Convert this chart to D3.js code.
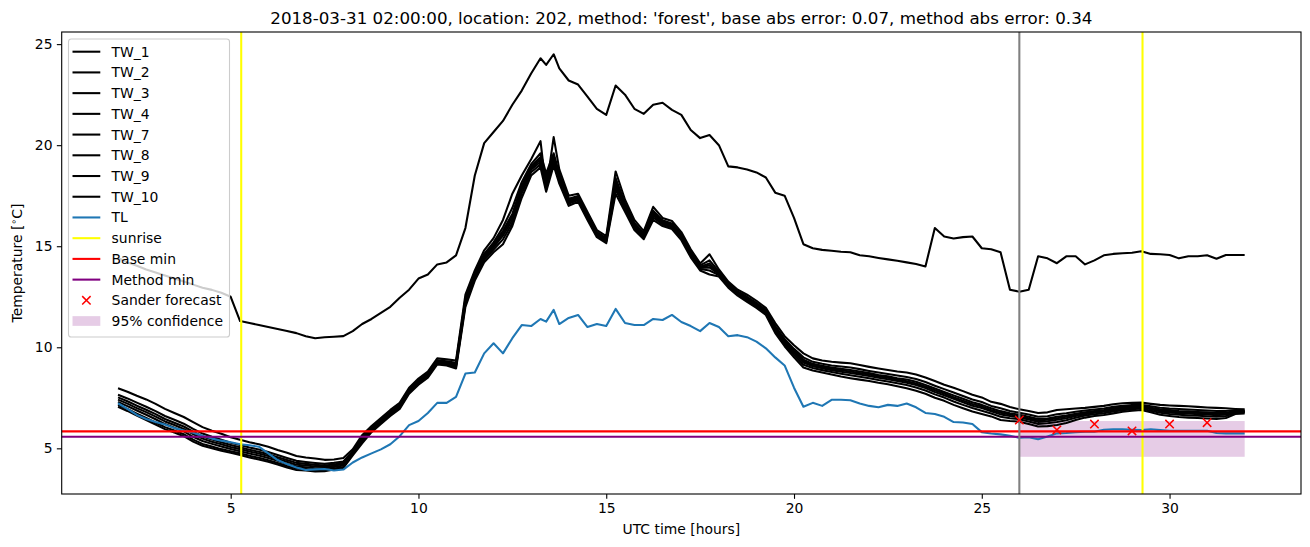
<!DOCTYPE html>
<html><head><meta charset="utf-8">
<script src="https://cdn.jsdelivr.net/npm/d3@7"></script>
<style>body{margin:0;background:#fff}svg{display:block;font-family:"DejaVu Sans",sans-serif}</style>
</head><body><svg id="c" width="1310" height="547"></svg>
<script>
const hours=[2,2.25,2.5,2.75,3,3.25,3.5,3.75,4,4.25,4.5,4.75,5,5.25,5.5,5.75,6,6.25,6.5,6.75,7,7.25,7.5,7.75,8,8.25,8.5,8.75,9,9.25,9.5,9.75,10,10.25,10.5,10.75,11,11.25,11.5,11.75,12,12.25,12.5,12.75,13,13.25,13.4,13.6,13.75,14,14.25,14.5,14.75,15,15.25,15.5,15.75,16,16.25,16.5,16.75,17,17.25,17.5,17.75,18,18.25,18.5,18.75,19,19.25,19.5,19.75,20,20.25,20.5,20.75,21,21.25,21.5,21.75,22,22.25,22.5,22.75,23,23.25,23.5,23.75,24,24.25,24.5,24.75,25,25.25,25.5,25.75,26,26.25,26.5,26.75,27,27.25,27.5,27.75,28,28.25,28.5,28.75,29,29.25,29.5,29.75,30,30.25,30.5,30.75,31,31.25,31.5,31.75,32];
const TW_1=[14.42,14.2,14.03,13.85,13.7,13.55,13.4,13.25,13.1,12.95,12.84,12.7,12.5,11.3,11.2,11.1,11.0,10.9,10.81,10.7,10.55,10.45,10.5,10.52,10.55,10.8,11.15,11.4,11.7,12.0,12.45,12.85,13.4,13.6,14.1,14.2,14.55,15.9,18.5,20.1,20.65,21.2,22.0,22.7,23.55,24.3,23.97,24.5,23.8,23.2,23.0,22.4,21.8,21.5,22.95,22.5,21.8,21.55,22.0,22.1,21.75,21.5,20.75,20.35,20.5,20.0,18.95,18.9,18.8,18.65,18.4,17.65,17.5,16.4,15.1,14.9,14.82,14.78,14.73,14.7,14.55,14.5,14.42,14.35,14.28,14.2,14.12,14.0,15.9,15.48,15.38,15.45,15.48,14.9,14.85,14.7,12.85,12.75,12.85,14.5,14.4,14.16,14.5,14.5,14.1,14.3,14.55,14.62,14.65,14.68,14.75,14.62,14.6,14.57,14.4,14.5,14.5,14.55,14.38,14.57,14.57,14.57];
const TW_2=[7.97,7.8,7.6,7.42,7.2,6.95,6.75,6.55,6.3,6.05,5.87,5.72,5.55,5.42,5.3,5.2,5.08,4.92,4.78,4.62,4.55,4.5,4.43,4.45,4.52,4.95,5.65,6.1,6.5,6.9,7.25,8.0,8.45,8.8,9.45,9.4,9.35,12.6,13.8,14.8,15.4,16.3,17.6,18.5,19.3,20.2,17.8,20.4,18.8,17.5,17.6,16.7,15.8,15.5,18.7,17.3,16.3,15.75,16.95,16.4,16.25,15.7,14.85,14.15,14.6,13.85,13.25,12.85,12.6,12.3,11.95,11.2,10.55,10.1,9.7,9.45,9.35,9.28,9.24,9.21,9.12,9.03,8.95,8.88,8.8,8.75,8.65,8.5,8.33,8.15,8.0,7.83,7.65,7.52,7.3,7.2,7.05,6.93,6.85,6.75,6.78,6.9,6.93,6.97,7.0,7.05,7.1,7.18,7.23,7.25,7.26,7.2,7.15,7.12,7.1,7.08,7.05,7.02,7.0,6.98,6.95,6.93];
const TW_3=[7.65,7.47,7.26,7.06,6.84,6.6,6.41,6.22,5.96,5.73,5.57,5.43,5.28,5.16,5.04,4.94,4.82,4.67,4.52,4.38,4.32,4.27,4.23,4.28,4.35,4.86,5.53,6.01,6.41,6.81,7.16,7.91,8.36,8.71,9.36,9.31,9.23,12.42,13.65,14.62,15.19,15.94,16.9,18.17,19.06,19.6,18.6,19.6,18.59,17.35,17.48,16.58,15.7,15.4,18.37,17.12,16.15,15.63,16.76,16.28,16.13,15.58,14.73,14.05,14.3,13.75,13.16,12.76,12.5,12.2,11.85,11.05,10.4,9.92,9.5,9.28,9.18,9.1,9.05,9.0,8.92,8.83,8.75,8.68,8.6,8.53,8.43,8.28,8.1,7.93,7.76,7.59,7.42,7.29,7.1,6.98,6.85,6.76,6.67,6.56,6.59,6.69,6.74,6.81,6.87,6.92,6.97,7.05,7.11,7.14,7.16,7.08,7.01,6.97,6.95,6.92,6.9,6.87,6.85,6.85,6.88,6.87];
const TW_4=[7.52,7.33,7.11,6.91,6.69,6.45,6.27,6.08,5.82,5.59,5.44,5.3,5.17,5.05,4.93,4.83,4.71,4.56,4.42,4.28,4.23,4.18,4.15,4.2,4.28,4.82,5.47,5.97,6.37,6.77,7.12,7.87,8.32,8.67,9.32,9.27,9.17,12.33,13.58,14.53,15.09,15.76,16.6,18.0,18.94,19.42,18.4,19.45,18.49,17.28,17.42,16.52,15.64,15.34,18.2,17.03,16.08,15.57,16.66,16.22,16.07,15.52,14.67,13.99,14.15,13.69,13.12,12.72,12.44,12.14,11.79,10.98,10.33,9.83,9.39,9.18,9.08,9.0,8.93,8.88,8.8,8.72,8.63,8.56,8.47,8.4,8.29,8.14,7.96,7.79,7.62,7.45,7.28,7.15,6.98,6.84,6.74,6.66,6.56,6.45,6.47,6.56,6.62,6.71,6.78,6.85,6.9,6.98,7.04,7.07,7.1,7.01,6.93,6.89,6.85,6.83,6.8,6.78,6.75,6.76,6.84,6.84];
const TW_7=[7.41,7.21,6.99,6.79,6.57,6.33,6.15,5.96,5.7,5.48,5.33,5.2,5.07,4.96,4.84,4.74,4.62,4.47,4.33,4.19,4.15,4.1,4.08,4.14,4.22,4.78,5.43,5.93,6.33,6.73,7.08,7.83,8.28,8.63,9.28,9.23,9.13,12.27,13.52,14.47,15.02,15.64,16.45,17.9,18.86,19.3,18.25,19.35,18.41,17.22,17.38,16.48,15.61,15.31,18.1,16.97,16.02,15.53,16.59,16.18,16.03,15.48,14.63,13.96,14.05,13.66,13.08,12.68,12.41,12.11,11.76,10.92,10.27,9.77,9.32,9.12,9.02,8.93,8.86,8.8,8.72,8.65,8.56,8.49,8.4,8.32,8.21,8.06,7.87,7.71,7.53,7.36,7.19,7.07,6.9,6.76,6.67,6.59,6.49,6.38,6.41,6.49,6.56,6.66,6.74,6.8,6.85,6.93,7.0,7.04,7.06,6.97,6.88,6.83,6.8,6.77,6.75,6.72,6.7,6.72,6.82,6.82];
const TW_8=[7.29,7.09,6.87,6.66,6.44,6.2,6.02,5.84,5.57,5.36,5.22,5.09,4.97,4.86,4.74,4.64,4.52,4.38,4.23,4.1,4.06,4.01,4.01,4.08,4.15,4.76,5.39,5.9,6.3,6.7,7.05,7.8,8.25,8.6,9.25,9.2,9.09,12.21,13.48,14.41,14.95,15.52,16.3,17.79,18.78,19.18,18.1,19.25,18.35,17.18,17.34,16.44,15.57,15.27,17.99,16.91,15.98,15.49,16.53,16.14,15.99,15.44,14.59,13.92,13.95,13.62,13.05,12.65,12.37,12.07,11.72,10.88,10.23,9.71,9.25,9.06,8.96,8.87,8.79,8.73,8.65,8.58,8.49,8.42,8.33,8.24,8.13,7.98,7.79,7.63,7.45,7.28,7.11,6.99,6.83,6.68,6.6,6.53,6.43,6.31,6.34,6.41,6.49,6.6,6.69,6.76,6.81,6.89,6.96,7.0,7.03,6.93,6.83,6.78,6.74,6.72,6.69,6.67,6.64,6.67,6.8,6.8];
const TW_9=[7.15,6.95,6.72,6.5,6.28,6.05,5.88,5.7,5.43,5.22,5.09,4.96,4.86,4.75,4.63,4.53,4.41,4.27,4.12,4.0,3.97,3.92,3.93,4.0,4.08,4.71,5.33,5.86,6.26,6.66,7.01,7.76,8.21,8.56,9.21,9.16,9.03,12.12,13.4,14.32,14.84,15.34,16.15,17.62,18.66,19.05,17.95,19.1,18.24,17.1,17.28,16.38,15.52,15.22,17.82,16.82,15.9,15.43,16.43,16.08,15.93,15.38,14.53,13.87,13.8,13.57,13.01,12.61,12.32,12.02,11.67,10.8,10.15,9.62,9.14,8.97,8.87,8.78,8.69,8.62,8.54,8.47,8.38,8.31,8.22,8.13,8.01,7.86,7.67,7.51,7.32,7.15,6.99,6.86,6.72,6.56,6.49,6.44,6.33,6.21,6.24,6.3,6.39,6.51,6.62,6.69,6.74,6.82,6.89,6.94,6.97,6.86,6.76,6.7,6.66,6.63,6.61,6.59,6.56,6.6,6.76,6.77];
const TW_10=[7.06,6.85,6.62,6.4,6.18,5.95,5.78,5.6,5.33,5.13,5.0,4.88,4.78,4.67,4.55,4.45,4.33,4.2,4.05,3.93,3.9,3.85,3.87,3.95,4.03,4.65,5.25,5.8,6.2,6.6,6.95,7.7,8.15,8.5,9.15,9.1,8.95,12.0,13.3,14.2,14.7,15.1,16.0,17.4,18.5,18.9,17.7,19.0,18.1,17.0,17.2,16.3,15.45,15.15,17.6,16.7,15.8,15.35,16.3,16.0,15.85,15.3,14.45,13.8,13.6,13.5,12.95,12.55,12.25,11.95,11.6,10.7,10.05,9.5,9.0,8.85,8.75,8.65,8.55,8.47,8.4,8.33,8.24,8.17,8.07,7.97,7.85,7.7,7.5,7.35,7.15,6.98,6.82,6.7,6.58,6.4,6.35,6.32,6.2,6.08,6.1,6.15,6.25,6.4,6.52,6.6,6.65,6.73,6.81,6.86,6.9,6.78,6.66,6.6,6.55,6.52,6.5,6.48,6.45,6.5,6.7,6.72];
const TL=[7.23,6.95,6.65,6.45,6.3,6.18,6.0,5.88,5.77,5.62,5.48,5.38,5.3,5.2,5.15,5.08,4.75,4.42,4.22,4.05,3.93,3.96,3.98,3.9,3.95,4.3,4.55,4.75,4.95,5.2,5.6,6.15,6.35,6.75,7.25,7.25,7.55,8.7,8.75,9.7,10.2,9.7,10.45,11.1,11.05,11.4,11.27,11.85,11.15,11.45,11.6,11.0,11.15,11.05,11.9,11.2,11.1,11.1,11.4,11.35,11.6,11.25,11.05,10.8,11.2,11.0,10.55,10.6,10.5,10.28,9.95,9.5,9.1,8.0,7.06,7.25,7.1,7.4,7.4,7.38,7.22,7.1,7.03,7.15,7.1,7.22,7.03,6.75,6.7,6.56,6.3,6.28,6.2,5.8,5.73,5.69,5.62,5.52,5.55,5.45,5.58,5.74,5.76,5.8,5.82,5.82,5.92,5.94,5.94,5.92,5.9,5.94,5.9,5.87,5.87,5.87,5.87,5.87,5.76,5.74,5.74,5.74];
const twNames=["TW_1","TW_2","TW_3","TW_4","TW_7","TW_8","TW_9","TW_10"];
const twSeries=[TW_1,TW_2,TW_3,TW_4,TW_7,TW_8,TW_9,TW_10];
const sunriseHours=[5.28,29.28];
const baseMin=5.84, methodMin=5.57, forecastHour=26;
const sanderHours=[26,27,28,29,30,31];
const sanderValues=[6.40,5.91,6.20,5.86,6.20,6.27];
const confHours=[26,32], confLow=4.58, confHigh=6.35;
const xTicks=[5,10,15,20,25,30], yTicks=[5,10,15,20,25];
const titleText="2018-03-31 02:00:00, location: 202, method: 'forest', base abs error: 0.07, method abs error: 0.34";
const legendLabels=["TW_1","TW_2","TW_3","TW_4","TW_7","TW_8","TW_9","TW_10","TL","sunrise","Base min","Method min","Sander forecast","95% confidence"];

const L=61.7,R=1301,T=32,B=494,FS=13.9,LW=2.08;
const svg=d3.select("#c");
const x=d3.scaleLinear().domain([0.5,33.5]).range([L,R]);
const y=d3.scaleLinear().domain([2.74,25.6]).range([B,T]);
const line=d3.line().x((d,i)=>x(hours[i])).y(d=>y(d));

// confidence band
svg.append("rect").attr("x",x(confHours[0])).attr("width",x(confHours[1])-x(confHours[0]))
 .attr("y",y(confHigh)).attr("height",y(confLow)-y(confHigh)).attr("fill","purple").attr("fill-opacity",0.2);
const g=svg.append("g");
twSeries.forEach(s=>g.append("path").attr("d",line(s)).attr("fill","none").attr("stroke","#000").attr("stroke-width",LW).attr("stroke-linejoin","round"));
g.append("path").attr("d",line(TL)).attr("fill","none").attr("stroke","#1f77b4").attr("stroke-width",LW).attr("stroke-linejoin","round");
sunriseHours.forEach(h=>g.append("line").attr("x1",x(h)).attr("x2",x(h)).attr("y1",T).attr("y2",B).attr("stroke","#ffff00").attr("stroke-width",LW));
g.append("line").attr("x1",L).attr("x2",R).attr("y1",y(baseMin)).attr("y2",y(baseMin)).attr("stroke","red").attr("stroke-width",LW);
g.append("line").attr("x1",L).attr("x2",R).attr("y1",y(methodMin)).attr("y2",y(methodMin)).attr("stroke","purple").attr("stroke-width",LW);
g.append("line").attr("x1",x(forecastHour)).attr("x2",x(forecastHour)).attr("y1",T).attr("y2",B).attr("stroke","gray").attr("stroke-width",LW);
function xmark(sel,cx,cy){const r=4.2;sel.append("path").attr("d",`M${cx-r},${cy-r}L${cx+r},${cy+r}M${cx-r},${cy+r}L${cx+r},${cy-r}`).attr("stroke","red").attr("stroke-width",1.5).attr("fill","none");}
sanderHours.forEach((h,i)=>xmark(g,x(h),y(sanderValues[i])));

// axes
const ax=svg.append("g").attr("transform",`translate(0,${B})`).call(d3.axisBottom(x).tickValues(xTicks).tickSize(4.86).tickPadding(4.3).tickSizeOuter(0));
const ay=svg.append("g").attr("transform",`translate(${L},0)`).call(d3.axisLeft(y).tickValues(yTicks).tickSize(4.86).tickPadding(4.3).tickSizeOuter(0));
[ax,ay].forEach(a=>{a.select(".domain").remove();a.selectAll("line").attr("stroke","#000").attr("stroke-width",1.1);a.selectAll("text").attr("font-family","DejaVu Sans").attr("font-size",FS).attr("fill","#000");});
svg.append("rect").attr("x",L).attr("y",T).attr("width",R-L).attr("height",B-T).attr("fill","none").attr("stroke","#000").attr("stroke-width",1.1);

// labels
svg.append("text").attr("x",(L+R)/2).attr("y",23.5).attr("text-anchor","middle").attr("font-size",16.7).text(titleText);
svg.append("text").attr("x",(L+R)/2).attr("y",534).attr("text-anchor","middle").attr("font-size",FS).text("UTC time [hours]");
const yl=svg.append("text").attr("transform",`translate(22,${(T+B)/2}) rotate(-90)`).attr("text-anchor","middle").attr("font-size",FS);
yl.append("tspan").text("Temperature [");
yl.append("tspan").attr("font-size",9.5).attr("dy",-5.5).text("∘");
yl.append("tspan").attr("dy",5.5).text("C]");

// legend
const lg=svg.append("g");
lg.append("rect").attr("x",68.5).attr("y",39).attr("width",161).attr("height",298).attr("rx",2.8).attr("fill","#fff").attr("fill-opacity",0.8).attr("stroke","#cccccc").attr("stroke-width",1.1);
const colors=["#000","#000","#000","#000","#000","#000","#000","#000","#1f77b4","#ffff00","red","purple",null,null];
legendLabels.forEach((lab,i)=>{
 const cy=51.7+i*20.72;
 if(i<12) lg.append("line").attr("x1",72.5).attr("x2",100.3).attr("y1",cy).attr("y2",cy).attr("stroke",colors[i]).attr("stroke-width",LW);
 else if(i===12) xmark(lg,86.4,cy);
 else lg.append("rect").attr("x",72.5).attr("y",cy-4.9).attr("width",27.8).attr("height",9.7).attr("fill","purple").attr("fill-opacity",0.2);
 lg.append("text").attr("x",111.6).attr("y",cy).attr("dy","0.36em").attr("font-size",FS).text(lab);
});
</script></body></html>
